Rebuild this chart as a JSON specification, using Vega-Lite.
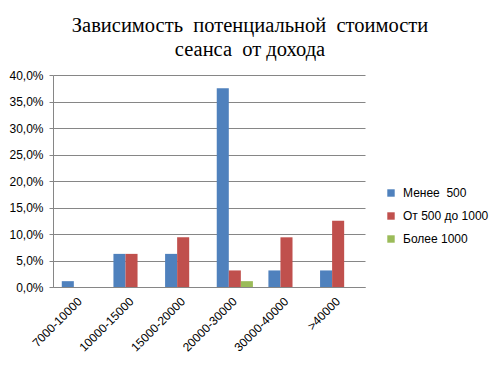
{
  "$schema": "https://vega.github.io/schema/vega-lite/v6.json",
  "autosize": {"type": "none"},
  "width": 312,
  "height": 212,
  "padding": {"left": 53, "top": 75, "right": 135, "bottom": 79},
  "background": "white",
  "title": {
    "text": ["Зависимость\u00a0 потенциальной\u00a0 стоимости", "сеанса\u00a0 от дохода"],
    "font": "Liberation Serif",
    "fontSize": 20.5,
    "fontWeight": "normal",
    "color": "#000000",
    "anchor": "middle",
    "dx": 41,
    "offset": -7,
    "baseline": "alphabetic",
    "lineHeight": 24
  },
  "data": {
    "values": [
      {"income": "7000-10000", "price": "Менее\u00a0 500", "share": 0.011},
      {"income": "7000-10000", "price": "От 500 до 1000", "share": 0},
      {"income": "7000-10000", "price": "Более 1000", "share": 0},
      {"income": "10000-15000", "price": "Менее\u00a0 500", "share": 0.0625},
      {"income": "10000-15000", "price": "От 500 до 1000", "share": 0.0625},
      {"income": "10000-15000", "price": "Более 1000", "share": 0},
      {"income": "15000-20000", "price": "Менее\u00a0 500", "share": 0.0625},
      {"income": "15000-20000", "price": "От 500 до 1000", "share": 0.09375},
      {"income": "15000-20000", "price": "Более 1000", "share": 0},
      {"income": "20000-30000", "price": "Менее\u00a0 500", "share": 0.375},
      {"income": "20000-30000", "price": "От 500 до 1000", "share": 0.03125},
      {"income": "20000-30000", "price": "Более 1000", "share": 0.011},
      {"income": "30000-40000", "price": "Менее\u00a0 500", "share": 0.03125},
      {"income": "30000-40000", "price": "От 500 до 1000", "share": 0.09375},
      {"income": "30000-40000", "price": "Более 1000", "share": 0},
      {"income": ">40000", "price": "Менее\u00a0 500", "share": 0.03125},
      {"income": ">40000", "price": "От 500 до 1000", "share": 0.125},
      {"income": ">40000", "price": "Более 1000", "share": 0}
    ]
  },
  "mark": {"type": "bar"},
  "encoding": {
    "x": {
      "field": "income",
      "type": "nominal",
      "sort": ["7000-10000", "10000-15000", "15000-20000", "20000-30000", "30000-40000", ">40000"],
      "scale": {"paddingInner": 0.3, "paddingOuter": 0.17},
      "axis": {
        "title": null,
        "labelAngle": -45,
        "labelAlign": "right",
        "labelBaseline": "middle",
        "labelPadding": 12,
        "labelFont": "Liberation Sans",
        "labelFontSize": 12,
        "labelColor": "#000000",
        "ticks": false,
        "domain": true,
        "domainColor": "#868686",
        "grid": false
      }
    },
    "xOffset": {
      "field": "price",
      "type": "nominal",
      "sort": ["Менее\u00a0 500", "От 500 до 1000", "Более 1000"],
      "scale": {"paddingInner": 0, "paddingOuter": 0}
    },
    "y": {
      "field": "share",
      "type": "quantitative",
      "scale": {"domain": [0, 0.4], "nice": false},
      "axis": {
        "title": null,
        "values": [0, 0.05, 0.1, 0.15, 0.2, 0.25, 0.3, 0.35, 0.4],
        "labelExpr": "replace(format(datum.value, '.1%'), '.', ',')",
        "labelFont": "Liberation Sans",
        "labelFontSize": 12,
        "labelColor": "#000000",
        "labelPadding": 6,
        "grid": true,
        "gridColor": "#868686",
        "tickColor": "#868686",
        "tickSize": 4,
        "domainColor": "#868686"
      }
    },
    "color": {
      "field": "price",
      "type": "nominal",
      "sort": ["Менее\u00a0 500", "От 500 до 1000", "Более 1000"],
      "scale": {
        "domain": ["Менее\u00a0 500", "От 500 до 1000", "Более 1000"],
        "range": ["#4F81BD", "#C0504D", "#9BBB59"]
      },
      "legend": {
        "title": null,
        "orient": "none",
        "legendX": 332,
        "legendY": 112,
        "symbolType": "square",
        "symbolSize": 55,
        "symbolStrokeWidth": 0,
        "labelFont": "Liberation Sans",
        "labelFontSize": 12,
        "labelColor": "#000000",
        "rowPadding": 11,
        "labelOffset": 6
      }
    }
  },
  "config": {
    "view": {"stroke": null}
  }
}
